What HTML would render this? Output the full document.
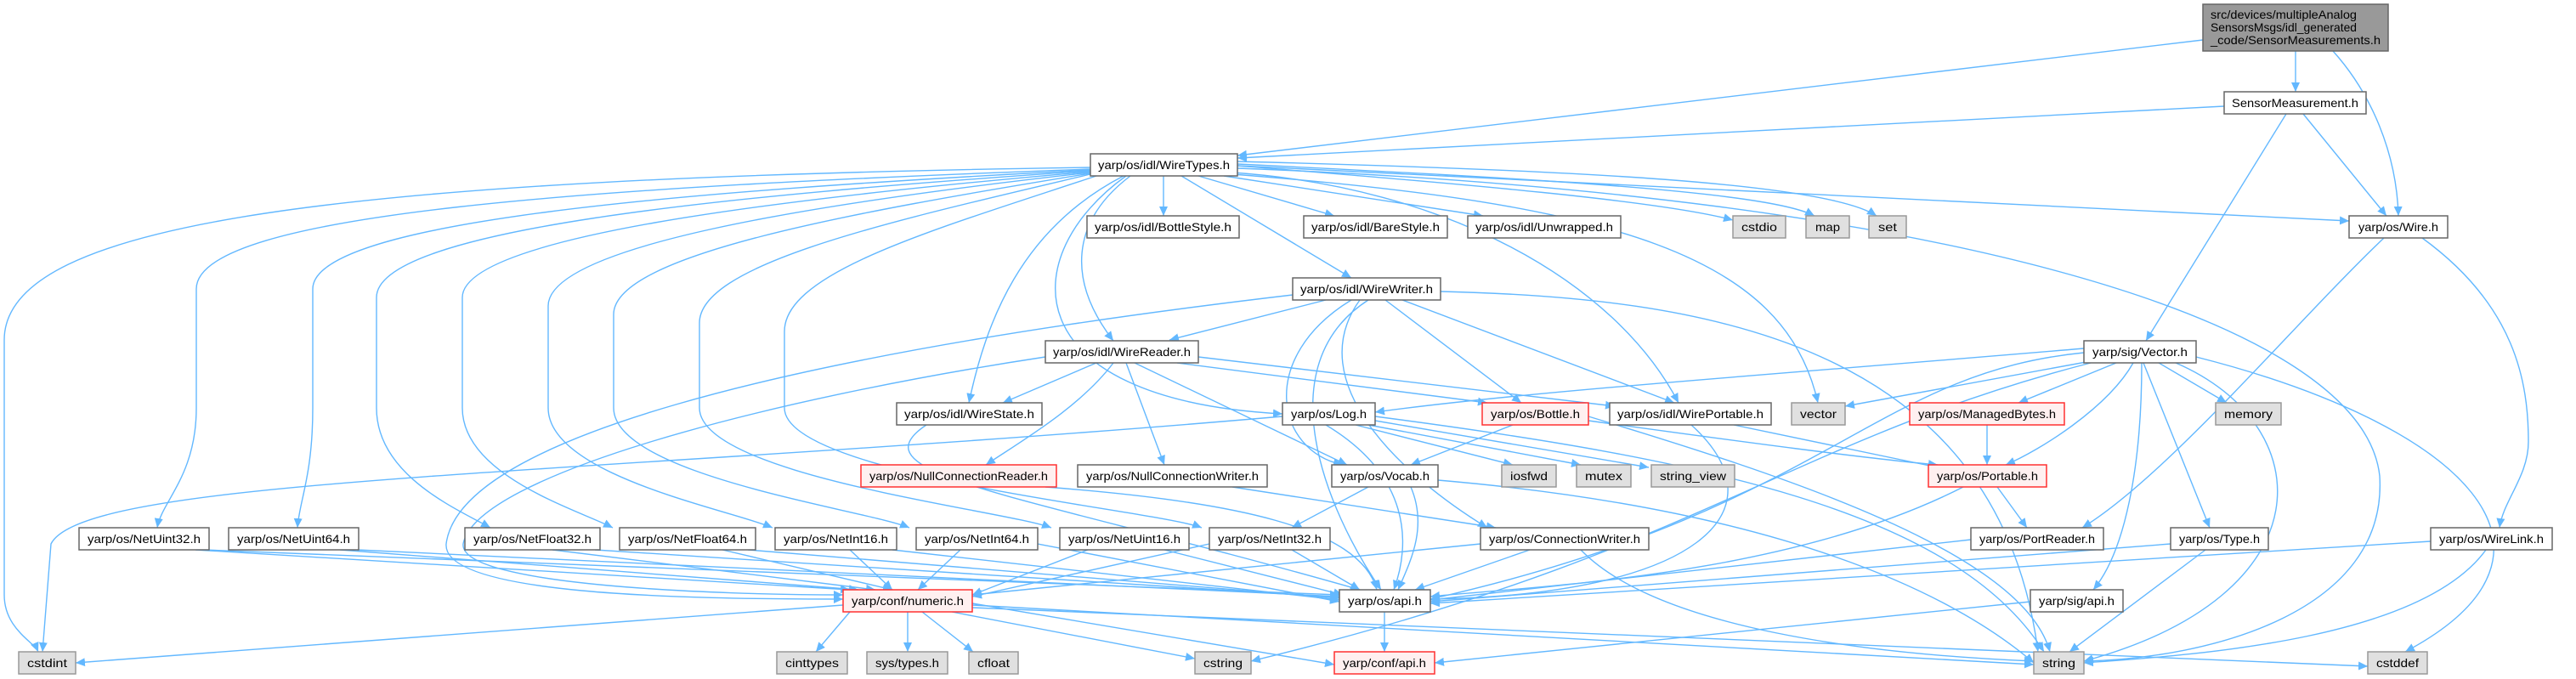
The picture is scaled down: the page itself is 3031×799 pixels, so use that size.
<!DOCTYPE html>
<html><head><meta charset="utf-8"><style>
html,body{margin:0;padding:0;background:#fff;}
svg{display:block}
.e{fill:none;stroke:#63b8ff;stroke-width:1.4}
.w{fill:#fff;stroke:#666;stroke-width:1.5}
.g{fill:#e0e0e0;stroke:#999;stroke-width:1.5}
.r{fill:#fff0f0;stroke:#ff3030;stroke-width:1.5}
.s{fill:#999;stroke:#666;stroke-width:1.5}
text{font-family:"Liberation Sans",sans-serif;font-size:14px;fill:#000}
</style></head><body>
<svg width="3031" height="799" viewBox="0 0 3031 799" xmlns="http://www.w3.org/2000/svg">
<defs><marker id="a" markerUnits="userSpaceOnUse" markerWidth="12" markerHeight="10" refX="11" refY="5" orient="auto"><path d="M0,0 L11,5 L0,10 z" fill="#63b8ff"/></marker></defs>
<g class="e" marker-end="url(#a)">
<path d="M2701 60 L2701 108"/>
<path d="M2745 60 C2790 110 2820 180 2822 254"/>
<path d="M2592 47 L1456 183"/>
<path d="M2617 125 L1456 186"/>
<path d="M2710 134 L2808 254"/>
<path d="M2690 134 L2525 401"/>
<path d="M1369 207 L1369 254"/>
<path d="M1410 207 L1570 254"/>
<path d="M1440 207 L1745 254"/>
<path d="M1390 207 L1590 327"/>
<path d="M1330 207 C1260 260 1255 330 1310 401"/>
<path d="M1322 207 C1200 270 1160 380 1140 474"/>
<path d="M1325 207 C1195 300 1190 470 1509 487"/>
<path d="M1450 203 C1700 220 1900 330 1975 474"/>
<path d="M1450 205 C1900 240 2100 300 2139 474"/>
<path d="M1456 195 C1700 215 1950 235 2039 259"/>
<path d="M1456 193 C1800 210 2080 225 2135 254"/>
<path d="M1456 190 C1850 200 2150 215 2208 254"/>
<path d="M1456 195 L2764 260"/>
<path d="M1456 198 C2300 230 2780 380 2800 560 C2810 720 2600 775 2452 778"/>
<path d="M1283 197 C400 210 5 260 5 400 L5 700 C5 740 40 755 45 767"/>
<path d="M1283 199 C700 220 231 250 231 340 L231 480 C231 560 190 590 185 621"/>
<path d="M1283 200 C800 225 368 260 368 340 L368 480 C368 560 352 590 350 621"/>
<path d="M1283 201 C850 230 443 270 443 350 L443 480 C443 560 540 600 577 621"/>
<path d="M1283 202 C900 235 544 280 544 350 L544 480 C544 560 680 600 721 621"/>
<path d="M1283 203 C950 240 645 290 645 360 L645 480 C645 560 860 600 909 621"/>
<path d="M1283 204 C1000 250 722 300 722 370 L722 480 C722 560 1020 600 1070 621"/>
<path d="M1283 205 C1050 260 823 310 823 380 L823 480 C823 560 1180 600 1237 621"/>
<path d="M1290 207 C1100 270 923 320 923 390 L923 480 C923 560 1360 600 1414 621"/>
<path d="M1560 353 L1376 400"/>
<path d="M1630 353 L1790 474"/>
<path d="M1650 353 L1970 474"/>
<path d="M1590 353 C1480 420 1500 530 1580 547"/>
<path d="M1600 353 C1530 450 1650 560 1750 621"/>
<path d="M1521 347 C900 420 540 520 525 640 C520 700 800 705 992 705"/>
<path d="M1230 420 C900 470 560 560 545 640 C540 690 850 700 992 700"/>
<path d="M1610 353 C1490 430 1560 600 1625 694"/>
<path d="M1695 343 C2000 350 2350 400 2398 767"/>
<path d="M1290 427 L1180 474"/>
<path d="M1310 427 C1270 480 1200 520 1160 547"/>
<path d="M1325 427 L1370 547"/>
<path d="M1335 427 L1585 547"/>
<path d="M1385 427 L1750 474"/>
<path d="M1410 420 L1900 478"/>
<path d="M1090 500 C1000 560 1200 580 1600 694"/>
<path d="M1595 500 L1780 547"/>
<path d="M1610 500 L1860 547"/>
<path d="M1618 495 L1940 550"/>
<path d="M1509 490 C700 560 100 560 60 640 L50 767"/>
<path d="M1560 500 C1660 560 1660 640 1640 694"/>
<path d="M1618 490 C2000 540 2300 600 2405 767"/>
<path d="M1780 500 L1660 547"/>
<path d="M1869 495 C2050 520 2200 540 2280 547"/>
<path d="M1869 490 C2100 560 2380 650 2412 767"/>
<path d="M2040 500 L2280 550"/>
<path d="M1990 500 C2100 600 2000 700 1683 705"/>
<path d="M1610 573 L1520 621"/>
<path d="M1660 573 C1680 620 1660 660 1645 694"/>
<path d="M1692 565 C2100 600 2300 700 2393 780"/>
<path d="M1230 573 C1450 590 1600 620 1620 694"/>
<path d="M1450 573 L1760 621"/>
<path d="M1742 640 L1144 700"/>
<path d="M1800 647 L1665 694"/>
<path d="M1860 647 C1950 740 2200 770 2393 778"/>
<path d="M230 647 L1000 694"/><path d="M240 647 L1576 700"/>
<path d="M400 647 L1010 694"/><path d="M420 647 L1576 702"/>
<path d="M650 647 L1030 694"/><path d="M700 647 L1576 703"/>
<path d="M850 647 L1050 694"/><path d="M880 647 L1576 704"/>
<path d="M1000 647 L1050 694"/><path d="M1050 647 L1576 706"/>
<path d="M1130 647 L1080 694"/><path d="M1221 640 L1576 708"/>
<path d="M1280 647 L1144 700"/><path d="M1370 647 L1580 700"/>
<path d="M1423 640 L1144 702"/><path d="M1520 647 L1600 694"/>
<path d="M992 712 L89 780"/>
<path d="M1000 720 L960 767"/>
<path d="M1068 720 L1068 767"/>
<path d="M1085 720 L1145 767"/>
<path d="M1120 720 L1406 775"/>
<path d="M1144 710 L1570 782"/>
<path d="M1144 712 L2393 782"/>
<path d="M1144 715 L2786 784"/>
<path d="M1629 720 L1629 767"/>
<path d="M2452 410 C2100 440 1800 460 1618 485"/>
<path d="M2460 425 L2171 478"/>
<path d="M2490 427 L2375 474"/>
<path d="M2540 427 L2620 474"/>
<path d="M2510 427 C2480 480 2400 530 2360 547"/>
<path d="M2522 427 L2600 621"/>
<path d="M2520 427 C2520 550 2500 650 2463 694"/>
<path d="M2560 427 C2730 500 2740 700 2452 778"/>
<path d="M2584 420 C2900 500 3050 650 2830 767"/>
<path d="M2452 415 C2200 440 2150 600 1683 705"/>
<path d="M2460 427 C2100 520 2000 650 1472 778"/>
<path d="M2338 500 L2338 547"/>
<path d="M2350 573 L2385 621"/>
<path d="M2310 573 C2100 680 1800 690 1683 702"/>
<path d="M2805 280 C2700 380 2550 560 2450 621"/>
<path d="M2850 280 C2960 360 2975 450 2975 520 C2975 560 2945 590 2941 621"/>
<path d="M2319 635 L1683 706"/>
<path d="M2554 640 L1683 708"/>
<path d="M2595 647 L2435 767"/>
<path d="M2860 637 L1683 710"/>
<path d="M2925 647 C2850 750 2600 770 2452 780"/>
<path d="M2389 708 L1688 780"/>
</g>
<rect class="s" x="2592" y="5" width="218" height="55"/>
<text x="2601" y="22" textLength="172" lengthAdjust="spacingAndGlyphs">src/devices/multipleAnalog</text>
<text x="2601" y="37" textLength="172" lengthAdjust="spacingAndGlyphs">SensorsMsgs/idl_generated</text>
<text x="2601" y="52" textLength="200" lengthAdjust="spacingAndGlyphs">_code/SensorMeasurements.h</text>
<g id="n">
<rect class="w" x="2617" y="108" width="167" height="26"/><text x="2626" y="126" textLength="149" lengthAdjust="spacingAndGlyphs">SensorMeasurement.h</text>
<rect class="w" x="1283" y="181" width="173" height="26"/><text x="1292" y="199" textLength="155" lengthAdjust="spacingAndGlyphs">yarp/os/idl/WireTypes.h</text>
<rect class="w" x="1279" y="254" width="179" height="26"/><text x="1288" y="272" textLength="161" lengthAdjust="spacingAndGlyphs">yarp/os/idl/BottleStyle.h</text>
<rect class="w" x="1534" y="254" width="169" height="26"/><text x="1543" y="272" textLength="151" lengthAdjust="spacingAndGlyphs">yarp/os/idl/BareStyle.h</text>
<rect class="w" x="1727" y="254" width="180" height="26"/><text x="1736" y="272" textLength="162" lengthAdjust="spacingAndGlyphs">yarp/os/idl/Unwrapped.h</text>
<rect class="g" x="2039" y="254" width="62" height="26"/><text x="2049" y="272" textLength="42" lengthAdjust="spacingAndGlyphs">cstdio</text>
<rect class="g" x="2125" y="254" width="51" height="26"/><text x="2136" y="272" textLength="29" lengthAdjust="spacingAndGlyphs">map</text>
<rect class="g" x="2199" y="254" width="44" height="26"/><text x="2210" y="272" textLength="22" lengthAdjust="spacingAndGlyphs">set</text>
<rect class="w" x="2764" y="254" width="116" height="26"/><text x="2775" y="272" textLength="94" lengthAdjust="spacingAndGlyphs">yarp/os/Wire.h</text>
<rect class="w" x="1521" y="327" width="174" height="26"/><text x="1530" y="345" textLength="156" lengthAdjust="spacingAndGlyphs">yarp/os/idl/WireWriter.h</text>
<rect class="w" x="1230" y="401" width="180" height="26"/><text x="1239" y="419" textLength="162" lengthAdjust="spacingAndGlyphs">yarp/os/idl/WireReader.h</text>
<rect class="w" x="2452" y="401" width="132" height="26"/><text x="2462" y="419" textLength="112" lengthAdjust="spacingAndGlyphs">yarp/sig/Vector.h</text>
<rect class="w" x="1055" y="474" width="171" height="26"/><text x="1064" y="492" textLength="153" lengthAdjust="spacingAndGlyphs">yarp/os/idl/WireState.h</text>
<rect class="w" x="1509" y="474" width="109" height="26"/><text x="1519" y="492" textLength="89" lengthAdjust="spacingAndGlyphs">yarp/os/Log.h</text>
<rect class="r" x="1744" y="474" width="125" height="26"/><text x="1754" y="492" textLength="105" lengthAdjust="spacingAndGlyphs">yarp/os/Bottle.h</text>
<rect class="w" x="1894" y="474" width="190" height="26"/><text x="1903" y="492" textLength="172" lengthAdjust="spacingAndGlyphs">yarp/os/idl/WirePortable.h</text>
<rect class="g" x="2108" y="474" width="63" height="26"/><text x="2118" y="492" textLength="43" lengthAdjust="spacingAndGlyphs">vector</text>
<rect class="r" x="2247" y="474" width="182" height="26"/><text x="2257" y="492" textLength="162" lengthAdjust="spacingAndGlyphs">yarp/os/ManagedBytes.h</text>
<rect class="g" x="2607" y="474" width="77" height="26"/><text x="2617" y="492" textLength="57" lengthAdjust="spacingAndGlyphs">memory</text>
<rect class="r" x="1013" y="547" width="230" height="26"/><text x="1023" y="565" textLength="210" lengthAdjust="spacingAndGlyphs">yarp/os/NullConnectionReader.h</text>
<rect class="w" x="1268" y="547" width="223" height="26"/><text x="1278" y="565" textLength="203" lengthAdjust="spacingAndGlyphs">yarp/os/NullConnectionWriter.h</text>
<rect class="w" x="1567" y="547" width="125" height="26"/><text x="1577" y="565" textLength="105" lengthAdjust="spacingAndGlyphs">yarp/os/Vocab.h</text>
<rect class="g" x="1767" y="547" width="64" height="26"/><text x="1777" y="565" textLength="44" lengthAdjust="spacingAndGlyphs">iosfwd</text>
<rect class="g" x="1855" y="547" width="64" height="26"/><text x="1865" y="565" textLength="44" lengthAdjust="spacingAndGlyphs">mutex</text>
<rect class="g" x="1943" y="547" width="98" height="26"/><text x="1953" y="565" textLength="78" lengthAdjust="spacingAndGlyphs">string_view</text>
<rect class="r" x="2269" y="547" width="139" height="26"/><text x="2279" y="565" textLength="119" lengthAdjust="spacingAndGlyphs">yarp/os/Portable.h</text>
<rect class="w" x="93" y="621" width="153" height="26"/><text x="103" y="639" textLength="133" lengthAdjust="spacingAndGlyphs">yarp/os/NetUint32.h</text>
<rect class="w" x="269" y="621" width="153" height="26"/><text x="279" y="639" textLength="133" lengthAdjust="spacingAndGlyphs">yarp/os/NetUint64.h</text>
<rect class="w" x="547" y="621" width="159" height="26"/><text x="557" y="639" textLength="139" lengthAdjust="spacingAndGlyphs">yarp/os/NetFloat32.h</text>
<rect class="w" x="729" y="621" width="160" height="26"/><text x="739" y="639" textLength="140" lengthAdjust="spacingAndGlyphs">yarp/os/NetFloat64.h</text>
<rect class="w" x="912" y="621" width="143" height="26"/><text x="922" y="639" textLength="123" lengthAdjust="spacingAndGlyphs">yarp/os/NetInt16.h</text>
<rect class="w" x="1078" y="621" width="143" height="26"/><text x="1088" y="639" textLength="123" lengthAdjust="spacingAndGlyphs">yarp/os/NetInt64.h</text>
<rect class="w" x="1247" y="621" width="152" height="26"/><text x="1257" y="639" textLength="132" lengthAdjust="spacingAndGlyphs">yarp/os/NetUint16.h</text>
<rect class="w" x="1423" y="621" width="142" height="26"/><text x="1433" y="639" textLength="122" lengthAdjust="spacingAndGlyphs">yarp/os/NetInt32.h</text>
<rect class="w" x="1742" y="621" width="198" height="26"/><text x="1752" y="639" textLength="178" lengthAdjust="spacingAndGlyphs">yarp/os/ConnectionWriter.h</text>
<rect class="w" x="2319" y="621" width="156" height="26"/><text x="2329" y="639" textLength="136" lengthAdjust="spacingAndGlyphs">yarp/os/PortReader.h</text>
<rect class="w" x="2554" y="621" width="115" height="26"/><text x="2564" y="639" textLength="95" lengthAdjust="spacingAndGlyphs">yarp/os/Type.h</text>
<rect class="w" x="2860" y="621" width="143" height="26"/><text x="2870" y="639" textLength="123" lengthAdjust="spacingAndGlyphs">yarp/os/WireLink.h</text>
<rect class="r" x="992" y="694" width="152" height="26"/><text x="1002" y="712" textLength="132" lengthAdjust="spacingAndGlyphs">yarp/conf/numeric.h</text>
<rect class="w" x="1576" y="694" width="107" height="26"/><text x="1586" y="712" textLength="87" lengthAdjust="spacingAndGlyphs">yarp/os/api.h</text>
<rect class="w" x="2389" y="694" width="109" height="26"/><text x="2399" y="712" textLength="89" lengthAdjust="spacingAndGlyphs">yarp/sig/api.h</text>
<rect class="g" x="22" y="767" width="67" height="26"/><text x="32" y="785" textLength="47" lengthAdjust="spacingAndGlyphs">cstdint</text>
<rect class="g" x="914" y="767" width="83" height="26"/><text x="924" y="785" textLength="63" lengthAdjust="spacingAndGlyphs">cinttypes</text>
<rect class="g" x="1020" y="767" width="95" height="26"/><text x="1030" y="785" textLength="75" lengthAdjust="spacingAndGlyphs">sys/types.h</text>
<rect class="g" x="1140" y="767" width="58" height="26"/><text x="1150" y="785" textLength="38" lengthAdjust="spacingAndGlyphs">cfloat</text>
<rect class="g" x="1406" y="767" width="66" height="26"/><text x="1416" y="785" textLength="46" lengthAdjust="spacingAndGlyphs">cstring</text>
<rect class="r" x="1570" y="767" width="118" height="26"/><text x="1580" y="785" textLength="98" lengthAdjust="spacingAndGlyphs">yarp/conf/api.h</text>
<rect class="g" x="2393" y="767" width="59" height="26"/><text x="2403" y="785" textLength="39" lengthAdjust="spacingAndGlyphs">string</text>
<rect class="g" x="2786" y="767" width="70" height="26"/><text x="2796" y="785" textLength="50" lengthAdjust="spacingAndGlyphs">cstddef</text>
</g>
</svg>
</body></html>
